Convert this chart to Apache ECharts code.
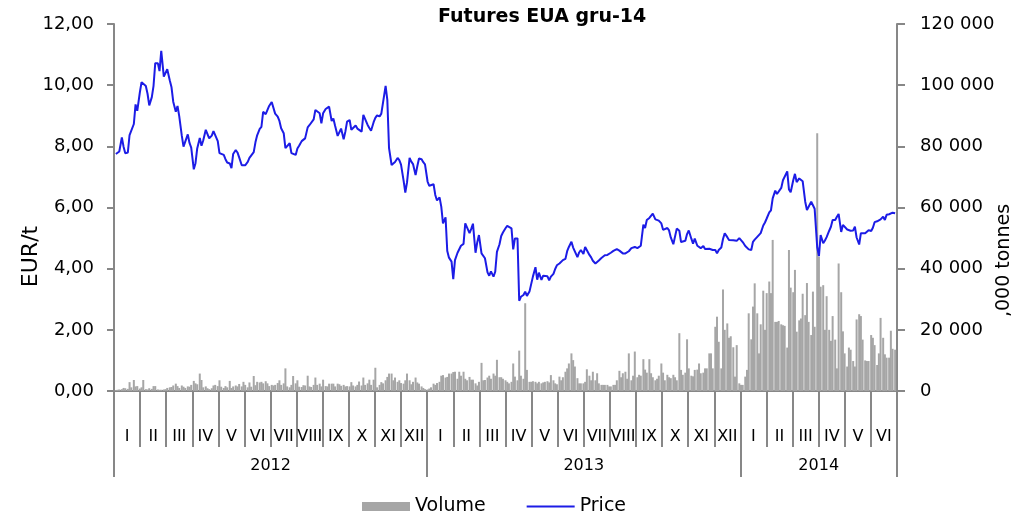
<!DOCTYPE html>
<html>
<head>
<meta charset="utf-8">
<title>Futures EUA gru-14</title>
<script src="https://cdn.jsdelivr.net/npm/echarts@6/dist/echarts.min.js"></script>
<style>
  html, body { margin: 0; padding: 0; background: #fff; }
  #main { width: 1032px; height: 518px; }
</style>
</head>
<body>
<div id="main"></div>
<script>
// readings taken on Mon / Wed / Fri of every week, first week starts Mon 2012-01-02
var firstMonday = Date.UTC(2012, 0, 2);
var obsWeekdays = [0, 2, 4];

// price, EUR/t (one line = 4 weeks)
var price2012 = [
  7.75,7.72,7.83, 8.29,7.99,7.77, 7.80,8.37,8.32, 8.73,9.37,9.16,
  9.76,10.10,10.06, 9.97,9.72,9.34, 9.61,9.98,10.72, 10.72,10.46,11.12,
  10.28,10.28,10.52, 10.15,9.93,9.46, 9.13,9.32,8.99, 8.35,7.99,8.04,
  8.39,8.11,7.96, 7.25,7.45,7.93, 8.27,8.02,8.19, 8.54,8.51,8.26,
  8.35,8.50,8.56, 8.17,7.78,7.74, 7.72,7.58,7.47, 7.44,7.29,7.75,
  7.88,7.80,7.64, 7.38,7.34,7.38, 7.49,7.62,7.64, 7.81,8.13,8.36,
  8.57,8.64,9.13, 9.05,9.11,9.32, 9.45,9.46,9.07, 8.97,8.83,8.59,
  8.43,7.94,7.97, 8.10,7.78,7.77, 7.72,7.93,8.02, 8.17,8.11,8.26,
  8.62,8.69,8.65, 8.88,9.19,9.19, 9.08,8.75,9.08, 9.22,9.28,9.30,
  8.83,8.91,8.67, 8.34,8.37,8.58, 8.23,8.48,8.81, 8.86,8.54,8.54,
  8.68,8.58,8.54, 8.48,9.03,8.97, 8.70,8.60,8.51, 8.79,8.93,9.01,
  8.98,9.07,9.04, 9.98,9.52,7.94, 7.39,7.43,7.49, 7.62,7.55,7.40,
  6.88,6.49,6.82, 7.62,7.50,7.42, 7.06,7.35,7.60, 7.58,7.48,7.41
];
var price2013 = [
  6.85,6.71,6.70, 6.76,6.41,6.23, 6.33,6.03,5.48, 5.68,4.58,4.36,
  4.23,3.66,4.28, 4.52,4.49,4.75, 4.81,5.48,5.49, 5.16,5.30,5.47,
  4.52,4.86,5.10, 4.50,4.52,4.34, 3.88,3.77,3.91, 3.74,3.90,4.55,
  4.80,5.07,5.18, 5.32,5.40,5.40, 5.32,4.63,4.99, 4.99,2.95,3.08,
  3.14,3.25,3.11, 3.25,3.30,3.74, 4.05,3.64,3.87, 3.63,3.77,3.72,
  3.75,3.62,3.74, 3.83,3.99,4.11, 4.17,4.19,4.28, 4.32,4.57,4.71,
  4.88,4.69,4.64, 4.38,4.53,4.61, 4.48,4.71,4.73, 4.45,4.37,4.26,
  4.17,4.22,4.27, 4.35,4.40,4.44, 4.45,4.50,4.52, 4.58,4.64,4.64,
  4.59,4.56,4.50, 4.50,4.52,4.57, 4.67,4.67,4.71, 4.67,4.62,4.75,
  5.44,5.33,5.59, 5.66,5.70,5.80, 5.61,5.56,5.57, 5.48,5.27,5.30,
  5.33,5.25,5.02, 4.80,4.84,5.31, 5.24,4.87,4.89, 4.91,5.13,5.25,
  4.98,4.82,4.98, 4.75,4.76,4.67, 4.74,4.64,4.61, 4.65,4.61,4.61,
  4.61,4.50,4.61, 4.69,4.97,5.16, 5.03,4.94,4.92, 4.93,4.88,4.91
];
var price2014 = [
  5.00,4.95,4.87, 4.74,4.69,4.63, 4.61,4.88,4.95, 5.04,5.09,5.16,
  5.41,5.51,5.64, 5.84,5.91,6.30, 6.55,6.44,6.43, 6.64,6.89,6.85,
  7.18,6.59,6.50, 6.89,7.10,6.83, 6.95,6.95,6.86, 6.19,5.92,5.95,
  6.19,6.21,5.96, 4.70,4.41,5.10, 4.83,4.92,5.03, 5.24,5.37,5.59,
  5.59,5.70,5.79, 5.20,5.43,5.44, 5.28,5.24,5.24, 5.25,5.37,5.02,
  4.79,5.16,5.10, 5.16,5.20,5.26, 5.23,5.34,5.52, 5.55,5.53,5.61,
  5.70,5.59,5.76, 5.78,5.79,5.83, 5.81
];

// volume, '000 tonnes
var volume2012 = [
  300,400,500, 600,1000,900, 700,2900,1200, 3600,1500,1600,
  800,1200,3600, 600,500,900, 700,1600,1600, 500,400,400,
  500,600,1000, 1200,1300,1800, 2400,1600,1000, 1800,1400,1000,
  1500,1400,2000, 3300,2500,2200, 5700,3600,1200, 1500,900,600,
  900,1800,2000, 1600,3500,1400, 1000,1600,1200, 3300,1000,1500,
  1800,1500,2300, 1500,3000,2000, 1200,2800,1400, 4900,1900,3000,
  2800,3000,2500, 3200,2500,1600, 2000,1800,2000, 2600,3500,2000,
  2500,7400,1500, 1200,2000,4900, 2500,3500,1400, 1300,1900,1800,
  5000,1500,1300, 2000,4400,2000, 2400,1500,3700, 1600,1500,2400,
  2400,2400,1500, 2400,2200,1700, 2000,1500,1600, 1500,2900,1800,
  1500,2000,3100, 1800,4400,2000, 2500,3700,2000, 3700,7600,1200,
  2000,2900,2500, 3500,4600,5700, 5700,3500,4400, 3000,3500,2600,
  2400,3500,5700, 3500,2200,3000, 4400,2800,2400, 1500,1000,600
];
var volume2013 = [
  500,800,1200, 2400,2000,2600, 3000,5000,5200, 4400,4600,5700,
  5700,6200,6300, 4000,6300,5000, 6300,4000,3500, 4600,3700,3700,
  2500,1800,3000, 9200,3500,3600, 4400,5000,4000, 5700,5000,10200,
  4500,4500,4000, 3500,3000,2500, 3000,9000,4700, 3500,13200,5000,
  4000,28700,6900, 3000,3000,3200, 3000,2500,3000, 2500,2800,3000,
  3200,2800,5200, 3500,2500,2200, 4700,3500,4500, 6300,7400,9000,
  12300,10100,8000, 4200,2500,2500, 2500,3000,7100, 5000,3500,6300,
  3500,5800,2500, 2000,2000,2000, 2000,1500,1500, 2000,2000,3500,
  6600,4500,5800, 6300,4000,12300, 3500,5000,12900, 4500,5300,5000,
  10400,7000,6000, 10400,5800,4500, 3500,4000,5000, 9000,6000,3500,
  5300,4500,4200, 5300,4500,3500, 18900,6900,5300, 6000,16900,7400,
  5000,4800,6900, 7000,9000,5800, 6000,7400,7400, 12300,12300,7400,
  21000,24300,16100, 7400,33200,20000, 22100,17400,17900, 14300,4700,15000
];
var volume2014 = [
  2500,2000,2000, 4700,6900,25400, 16900,27600,35200, 25400,12300,21800,
  32800,20000,32000, 35800,32000,49400, 22600,22600,22900, 21800,21500,21300,
  14200,46100,33800, 32300,39600,19400, 23100,23700,31800, 24800,35300,22600,
  18300,32500,21000, 84300,43900,34100, 34600,20000,31000, 20000,16400,24500,
  16800,7400,41700, 32300,19500,12300, 8000,14200,13500, 9800,8000,23400,
  25100,24500,16800, 10000,9800,9800, 18300,17400,15000, 8500,12300,23900,
  17400,12000,10900, 10900,19700,13800, 13500
];

var months = ['I', 'II', 'III', 'IV', 'V', 'VI', 'VII', 'VIII', 'IX', 'X', 'XI', 'XII'];
var years = ['2012', '2013', '2014'];
var monthsShown = [12, 12, 6];

var priceTicks = [0, 2, 4, 6, 8, 10, 12];
var volumeTicks = [0, 20000, 40000, 60000, 80000, 100000, 120000];


// build the series
var price = price2012.concat(price2013, price2014);
var volume = volume2012.concat(volume2013, volume2014);
var dayMs = 86400000;

function obsDate(i) {
  var week = Math.floor(i / 3);
  return firstMonday + (week * 7 + obsWeekdays[i % 3]) * dayMs;
}

var priceData = price.map(function (v, i) { return [obsDate(i), v]; });
var volumeData = volume.map(function (v, i) { return [obsDate(i), v]; });

// month labels along the axis and where the year blocks start / end
var monthLabels = [];
var yearBounds = [0];
var yearMids = [];
years.forEach(function (y, k) {
  monthLabels = monthLabels.concat(months.slice(0, monthsShown[k]));
  yearMids.push(yearBounds[k] + monthsShown[k] / 2);
  yearBounds.push(yearBounds[k] + monthsShown[k]);
});

var font = 'DejaVu Sans';
var gray = '#878787';
var blue = '#1c1ce6';
var axisLineStyle = {color: gray, width: 2};

var myChart = echarts.init(document.getElementById('main'));

myChart.setOption({
  animation: false,
  backgroundColor: '#ffffff',
  textStyle: {fontFamily: font, color: '#000'},
  title: {
    text: 'Futures EUA gru-14',
    left: 438,
    top: 8,
    padding: 0,
    textStyle: {fontFamily: font, fontSize: 19, fontWeight: 'bold', color: '#000'}
  },
  legend: {
    left: 357,
    top: 492,
    itemWidth: 48,
    itemHeight: 9,
    itemGap: 40,
    textStyle: {fontFamily: font, fontSize: 19, color: '#000'},
    data: [
      {name: 'Volume', icon: 'rect'},
      // plain line only, no marker in the middle
      {name: 'Price', itemStyle: {opacity: 0}, lineStyle: {color: blue, width: 2}}
    ]
  },
  grid: {left: 114, right: 135, top: 24, bottom: 127},
  xAxis: [
    {
      type: 'time',
      min: Date.UTC(2012, 0, 1),
      max: Date.UTC(2014, 6, 1),
      show: false
    },
    {
      type: 'category',
      position: 'bottom',
      data: monthLabels,
      boundaryGap: true,
      axisLine: {show: true, lineStyle: axisLineStyle},
      axisTick: {show: true, interval: 0, alignWithLabel: false, length: 56, lineStyle: axisLineStyle},
      axisLabel: {interval: 0, hideOverlap: false, margin: 38, fontSize: 16, color: '#000', fontFamily: font},
      splitLine: {show: false}
    },
    {
      type: 'value',
      position: 'bottom',
      min: 0,
      max: yearBounds[yearBounds.length - 1],
      axisLine: {show: false},
      splitLine: {show: false},
      axisTick: {show: true, customValues: yearBounds, length: 86, lineStyle: axisLineStyle},
      axisLabel: {
        customValues: yearMids,
        margin: 67,
        fontSize: 16,
        color: '#000',
        fontFamily: font,
        formatter: function (v) {
          return years[yearMids.indexOf(v)] || '';
        }
      }
    }
  ],
  yAxis: [
    {
      type: 'value',
      min: priceTicks[0],
      max: priceTicks[priceTicks.length - 1],
      interval: priceTicks[1] - priceTicks[0],
      name: 'EUR/t',
      nameLocation: 'middle',
      nameGap: 72,
      nameMoveOverlap: false,
      nameTextStyle: {fontFamily: font, fontSize: 22, color: '#000', padding: [0, 98, 0, 0]},
      axisLine: {show: true, lineStyle: axisLineStyle},
      axisTick: {show: true, length: 7, lineStyle: axisLineStyle},
      splitLine: {show: false},
      axisLabel: {
        margin: 20,
        fontSize: 18,
        color: '#000',
        fontFamily: font,
        formatter: function (v) { return v.toFixed(2).replace('.', ','); }
      }
    },
    {
      type: 'value',
      position: 'right',
      min: volumeTicks[0],
      max: volumeTicks[volumeTicks.length - 1],
      interval: volumeTicks[1] - volumeTicks[0],
      name: ',000 tonnes',
      nameLocation: 'middle',
      nameRotate: 90,
      nameGap: 98,
      nameMoveOverlap: false,
      nameTextStyle: {fontFamily: font, fontSize: 19, color: '#000', padding: [0, 106, 0, 0]},
      axisLine: {show: true, lineStyle: axisLineStyle},
      axisTick: {show: true, length: 8, lineStyle: axisLineStyle},
      splitLine: {show: false},
      axisLabel: {
        margin: 23,
        fontSize: 18,
        color: '#000',
        fontFamily: font,
        formatter: function (v) { return String(v).replace(/\B(?=(\d{3})+(?!\d))/g, ' '); }
      }
    }
  ],
  series: [
    {
      name: 'Volume',
      type: 'bar',
      xAxisIndex: 0,
      yAxisIndex: 1,
      barWidth: 2,
      itemStyle: {color: '#a6a6a6'},
      data: volumeData,
      z: 1
    },
    {
      name: 'Price',
      type: 'line',
      xAxisIndex: 0,
      yAxisIndex: 0,
      symbol: 'none',
      lineStyle: {color: blue, width: 2},
      itemStyle: {color: blue},
      data: priceData,
      z: 3
    }
  ]
});
</script>
</body>
</html>
